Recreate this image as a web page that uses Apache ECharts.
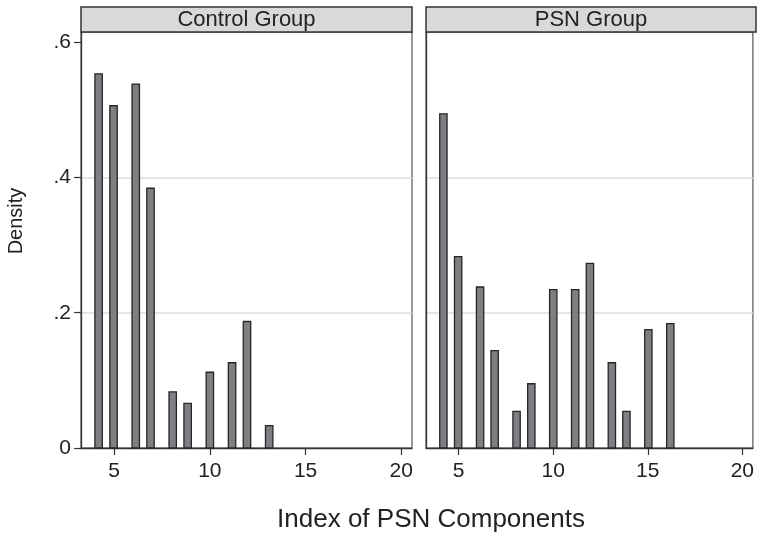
<!DOCTYPE html>
<html>
<head>
<meta charset="utf-8">
<style>
  html, body { margin: 0; padding: 0; background: #ffffff; }
  #chart { width: 757px; height: 535px; }
</style>
<script src="https://cdn.jsdelivr.net/npm/echarts@6/dist/echarts.min.js"></script>
</head>
<body>
<div id="chart"></div>
<script>
// ---- data ----
const panelTitles = ['Control Group', 'PSN Group'];
const binWidth = 0.387;               // histogram bin width (index units)
const controlX = [4.19, 4.97, 6.13, 6.90, 8.06, 8.84, 10.0, 11.16, 11.94, 13.10];
const controlDensity = [0.553, 0.506, 0.538, 0.384, 0.083, 0.066, 0.112, 0.126, 0.187, 0.033];
const psnX = [4.19, 4.97, 6.13, 6.90, 8.06, 8.84, 10.0, 11.16, 11.94, 13.10, 13.87, 15.03, 16.19];
const psnDensity = [0.494, 0.283, 0.238, 0.144, 0.054, 0.095, 0.234, 0.234, 0.273, 0.126, 0.054, 0.175, 0.184];
const xTickValues = [5, 10, 15, 20];
const yTickValues = [0, 0.2, 0.4, 0.6];
const yTickLabels = ['0', '.2', '.4', '.6'];
const yTitle = 'Density';
const xTitle = 'Index of PSN Components';

// ---- styling ----
const FONT = "'Liberation Sans', Arial, Helvetica, sans-serif";
const TEXT = '#222222';
const AXIS = '#333333';
const GRID_TOP = 32, GRID_H = 416;
const panels = [
  { left: 81, width: 331 },
  { left: 426, width: 330 }
];
const X_MIN = 3.27, X_MAX = 20.56, Y_MAX = 0.615;

function pairs(xs, ys) { return xs.map((x, i) => [x, ys[i]]); }

function renderBar(params, api) {
  const x = api.value(0), y = api.value(1);
  const p0 = api.coord([x - binWidth / 2, y]);
  const p1 = api.coord([x + binWidth / 2, 0]);
  return {
    type: 'rect',
    shape: { x: p0[0], y: p0[1], width: p1[0] - p0[0], height: p1[1] - p0[1] },
    style: { fill: '#7e7f83', stroke: '#262626', lineWidth: 1.3 }
  };
}

const yLabelMap = {};
yTickValues.forEach((v, i) => { yLabelMap[v.toFixed(2)] = yTickLabels[i]; });

const grids = panels.map(p => ({
  left: p.left, top: GRID_TOP, width: p.width, height: GRID_H,
  show: true, borderColor: AXIS, borderWidth: 1, backgroundColor: '#ffffff'
}));

const xAxes = panels.map((p, i) => ({
  type: 'value', gridIndex: i, min: X_MIN, max: X_MAX,
  axisLine: { show: true, onZero: false, lineStyle: { color: AXIS, width: 1.3 } },
  axisTick: { show: true, length: 7, lineStyle: { color: AXIS, width: 1.2 }, customValues: xTickValues },
  axisLabel: { show: true, customValues: xTickValues, margin: 13, color: TEXT, fontSize: 21, fontFamily: FONT },
  splitLine: { show: false }
}));

const yAxes = panels.map((p, i) => ({
  type: 'value', gridIndex: i, min: 0, max: Y_MAX, interval: 0.2,
  axisLine: { show: true, onZero: false, lineStyle: { color: AXIS, width: 1.3 } },
  axisTick: { show: i === 0, length: 7, lineStyle: { color: AXIS, width: 1.2 }, customValues: yTickValues },
  axisLabel: {
    show: i === 0, customValues: yTickValues, margin: 10, color: TEXT, fontSize: 21, fontFamily: FONT,
    formatter: v => (yLabelMap[Number(v).toFixed(2)] !== undefined ? yLabelMap[Number(v).toFixed(2)] : '')
  },
  splitLine: { show: true, showMinLine: false, showMaxLine: false, lineStyle: { color: '#dddddd', width: 1.5 } }
}));

const series = [
  { type: 'custom', xAxisIndex: 0, yAxisIndex: 0, renderItem: renderBar, data: pairs(controlX, controlDensity), z: 3 },
  { type: 'custom', xAxisIndex: 1, yAxisIndex: 1, renderItem: renderBar, data: pairs(psnX, psnDensity), z: 3 }
];

const graphics = [];
panels.forEach((p, i) => {
  graphics.push({
    type: 'rect', shape: { x: p.left, y: 7, width: p.width, height: GRID_TOP - 7 },
    style: { fill: '#d9d9da', stroke: AXIS, lineWidth: 1.5 }, z: 10
  });
  graphics.push({
    type: 'text', x: p.left + p.width / 2, y: 20,
    style: { text: panelTitles[i], fill: TEXT, font: '22px ' + FONT, textAlign: 'center', textVerticalAlign: 'middle' },
    z: 11
  });
});
graphics.push({
  type: 'text', x: 16.5, y: 221, rotation: Math.PI / 2,
  style: { text: yTitle, fill: TEXT, font: '20px ' + FONT, textAlign: 'center', textVerticalAlign: 'middle' }
});
graphics.push({
  type: 'text', x: 431, y: 520,
  style: { text: xTitle, fill: TEXT, font: '26px ' + FONT, textAlign: 'center', textVerticalAlign: 'middle' }
});

const chart = echarts.init(document.getElementById('chart'), null, { renderer: 'canvas' });
chart.setOption({
  animation: false,
  backgroundColor: '#ffffff',
  grid: grids,
  xAxis: xAxes,
  yAxis: yAxes,
  series: series,
  graphic: graphics
});
</script>
</body>
</html>
